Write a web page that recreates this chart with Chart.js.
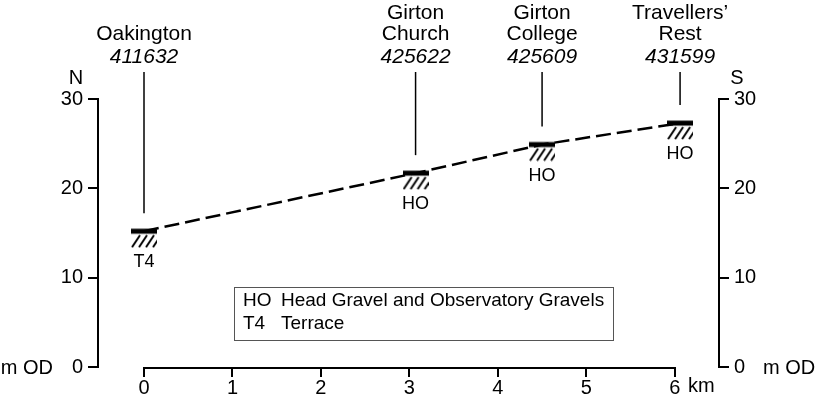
<!DOCTYPE html>
<html>
<head>
<meta charset="utf-8">
<script src="https://cdn.jsdelivr.net/npm/chart.js@4.4.0/dist/chart.umd.min.js"></script>
<style>
  html, body { margin: 0; padding: 0; background: #fff; }
  #wrap { width: 818px; height: 406px; }
</style>
</head>
<body>
<div id="wrap"><canvas id="profileChart" width="818" height="406"></canvas></div>
<script>
// site data
const siteNames = [['Oakington'], ['Girton', 'Church'], ['Girton', 'College'], ['Travellers\u2019', 'Rest']];
const gridRefs = ['411632', '425622', '425609', '431599'];
const distanceKm = [0, 3.07, 4.5, 6.06];
const heightM = [15.2, 21.7, 24.9, 27.3];
const deposits = ['T4', 'HO', 'HO', 'HO'];
const xTicks = [0, 1, 2, 3, 4, 5, 6];
const yTicks = [0, 10, 20, 30];
const legendCodes = ['HO', 'T4'];
const legendNames = ['Head Gravel and Observatory Gravels', 'Terrace'];

const FONT = "'Liberation Sans', Arial, sans-serif";

// bar + hatching marker, bar sits at the vertical centre of the canvas
const makeMarker = () => {
  const c = document.createElement('canvas');
  c.width = 26;
  c.height = 34;
  const g = c.getContext('2d');
  g.fillStyle = '#000';
  g.fillRect(0, 14.5, 26, 5);
  g.save();
  g.beginPath();
  g.rect(0, 19, 26, 15);
  g.clip();
  g.strokeStyle = '#000';
  g.lineWidth = 2;
  for (let k = 0; k < 4; k++) {
    const x0 = 1 + k * 7;
    g.beginPath();
    g.moveTo(x0, 33);
    g.lineTo(x0 + 8, 21);
    g.stroke();
  }
  g.restore();
  return c;
};
const marker = makeMarker();

const annotations = {
  id: 'annotations',
  afterDraw(chart) {
    const { ctx, chartArea } = chart;
    const xs = chart.scales.x;
    const ys = chart.scales.y;
    ctx.save();
    ctx.strokeStyle = '#000';
    ctx.fillStyle = '#000';

    // x axis line only from 0 to 6 km
    ctx.lineWidth = 2;
    ctx.beginPath();
    ctx.moveTo(xs.getPixelForValue(xTicks[0]) - 1, chartArea.bottom + 1);
    ctx.lineTo(xs.getPixelForValue(xTicks[xTicks.length - 1]) + 1, chartArea.bottom + 1);
    ctx.stroke();

    // leaders, site names and deposit codes
    distanceKm.forEach((d, i) => {
      const px = xs.getPixelForValue(d);
      const py = ys.getPixelForValue(heightM[i]);
      ctx.lineWidth = 1.5;
      ctx.beginPath();
      ctx.moveTo(px, 72);
      ctx.lineTo(px, py - 18);
      ctx.stroke();

      ctx.textAlign = 'center';
      ctx.textBaseline = 'alphabetic';
      ctx.font = 'italic 21px ' + FONT;
      ctx.fillText(gridRefs[i], px, 63);
      ctx.font = '21px ' + FONT;
      const lines = siteNames[i];
      lines.forEach((t, j) => {
        ctx.fillText(t, px, 40 - (lines.length - 1 - j) * 21);
      });

      ctx.font = '18px ' + FONT;
      ctx.textBaseline = 'middle';
      ctx.fillText(deposits[i], px, py + 31);
    });

    // axis captions
    ctx.font = '20px ' + FONT;
    ctx.textBaseline = 'alphabetic';
    ctx.textAlign = 'center';
    ctx.fillText('N', 76, 84);
    ctx.fillText('S', 737, 84);
    ctx.textBaseline = 'middle';
    const zeroY = ys.getPixelForValue(0);
    ctx.textAlign = 'right';
    ctx.fillText('m OD', 53, zeroY + 1);
    ctx.textAlign = 'left';
    ctx.fillText('m OD', 763, zeroY + 1);
    ctx.fillText('km', 688, 386);

    // key box
    ctx.lineWidth = 1;
    ctx.strokeStyle = '#555';
    ctx.strokeRect(234.5, 287.5, 379, 53);
    ctx.font = '19px ' + FONT;
    ctx.fillStyle = '#000';
    legendCodes.forEach((c, i) => {
      const ty = 301 + i * 23;
      ctx.fillText(c, 243, ty);
      ctx.fillText(legendNames[i], 281, ty);
    });
    ctx.restore();
  }
};

const yAxis = (position, width) => ({
  type: 'linear',
  position: position,
  min: yTicks[0],
  max: yTicks[yTicks.length - 1],
  afterBuildTicks: (s) => { s.ticks = yTicks.map(v => ({ value: v })); },
  afterFit: (s) => { s.width = width; },
  grid: { drawOnChartArea: false, drawTicks: true, tickLength: 10, color: '#000', lineWidth: 2 },
  border: { display: true, color: '#000', width: 2 },
  ticks: { color: '#000', font: { family: FONT, size: 20 }, padding: 5 }
});

const ctx = document.getElementById('profileChart').getContext('2d');
const profileChart = new Chart(ctx, {
  type: 'line',
  data: {
    datasets: [{
      data: distanceKm.map((d, i) => ({ x: d, y: heightM[i] })),
      borderColor: '#000',
      borderWidth: 2.5,
      borderDash: [15, 6],
      pointStyle: marker,
      pointRadius: 12,
      tension: 0,
      fill: false
    }]
  },
  options: {
    responsive: false,
    animation: false,
    events: [],
    layout: { padding: { top: 99, left: 0, right: 0, bottom: 0 } },
    plugins: { legend: { display: false }, tooltip: { enabled: false } },
    scales: {
      x: {
        type: 'linear',
        min: -0.52,
        max: 6.5,
        afterBuildTicks: (s) => { s.ticks = xTicks.map(v => ({ value: v })); },
        afterFit: (s) => { s.height = 39; },
        grid: { drawOnChartArea: false, drawTicks: true, tickLength: 10, color: '#000', lineWidth: 2 },
        border: { display: false },
        ticks: { color: '#000', font: { family: FONT, size: 20 }, padding: -1 }
      },
      y: yAxis('left', 98),
      y2: yAxis('right', 99)
    }
  },
  plugins: [annotations]
});
</script>
</body>
</html>
